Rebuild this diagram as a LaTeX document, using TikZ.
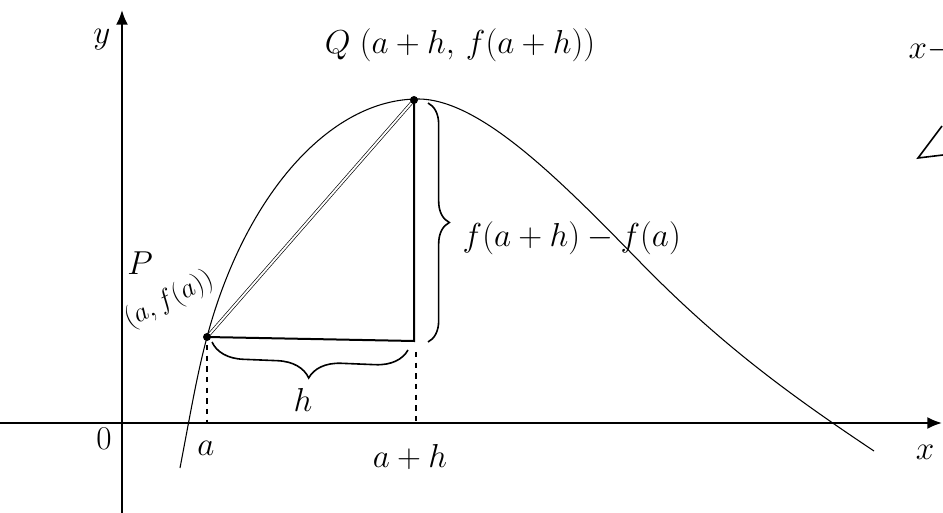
\documentclass[tikz,border=0pt]{standalone}
\usepackage{tikz}
\usetikzlibrary{arrows.meta,decorations.pathreplacing}

\tikzset{
  axisline/.style={line width=1.6pt,-{Latex[length=11pt,width=9pt]}},
  handlabel/.style={font=\fontsize{23}{26}\selectfont},
  printlabel/.style={font=\fontsize{23}{26}\selectfont},
  ptdot/.style={circle,fill=black,inner sep=0pt,minimum size=6pt},
  dropline/.style={line width=1.5pt,dash pattern=on 4pt off 4pt},
}

\begin{document}
\begin{tikzpicture}[x=0.75pt,y=0.75pt,yscale=-1,xscale=1]
\useasboundingbox (0,0) rectangle (943,513);
\clip (0,0) rectangle (943,513);

% Axes
\coordinate (O) at (122,423);
\coordinate (ybot) at (122,513);
\coordinate (ytop) at (122,10);
\coordinate (xleft) at (0,423);
\coordinate (xright) at (942,423);
\draw [axisline] (ybot) -- (ytop);
\draw [axisline] (xleft) -- (xright);

% Points on the curve
\coordinate (P) at (207,337);
\coordinate (Q) at (414,100);
\coordinate (R) at (414,341);
\coordinate (Pax) at (207,423);
\coordinate (Rax) at (416,423);
\coordinate (Rlow) at (416,352);

%Curve y = f(x)
\draw [line width=0.8pt] (180,468) .. controls (192,405) and (197,375) .. (P) .. controls (245,195) and (330,99) .. (418,99) .. controls (480,99) and (560,180) .. (640,262) .. controls (720,344) and (790,395) .. (874,451);

%Secant PQ
\draw [line width=0.5pt,double,double distance=1.4pt] (P) -- (Q);
%Triangle legs
\draw [line width=1.5pt] (P) -- (R) -- (Q);
%Dashed drops
\draw [dropline] (P) ++(0,8) -- (Pax);
\draw [dropline] (Rlow) -- (Rax);

\node [ptdot] (Pdot) at (P) {};
\node [ptdot] (Qdot) at (Q) {};

%Braces
\draw [line width=1.2pt,decorate,decoration={brace,amplitude=24pt}] (408,350) -- (212,342);
\draw [line width=1.2pt,decorate,decoration={brace,amplitude=16pt}] (428,103) -- (428,342);

% Text Node
\node [printlabel] (ylab) at (102,40) {$y$};
% Text Node
\node [printlabel] (xlab) at (925,452) {$x$};
% Text Node
\node [printlabel] (zero) at (104,439) {$0$};
% Text Node
\node [handlabel] (Qlab) at (460,45) {$Q\ (a+h,\, f(a+h))$};
% Text Node
\node [font=\fontsize{30}{34}\selectfont] (Plab) at (140,263) {$P$};
% Text Node
\node [font=\fontsize{20}{23}\selectfont,rotate=27] (Pcoord) at (169,300) {$(a,f(a))$};
% Text Node
\node [handlabel] (hlab) at (303,400) {$h$};
% Text Node
\node [handlabel] (alab) at (206,448) {$a$};
% Text Node
\node [handlabel] (ahlab) at (410,457) {$a+h$};
% Text Node
\node [handlabel,anchor=west] (difflab) at (458,238) {$f(a+h) - f(a)$};
% Text Node
\node [handlabel,anchor=west] (xcut) at (904,50) {$x-$};

%Angle mark at the right edge
\coordinate (angv) at (918,158);
\coordinate (angu) at (942,126);
\coordinate (angr) at (943,155);
\draw [line width=1.2pt] (angu) -- (angv) -- (angr);

\end{tikzpicture}
\end{document}
